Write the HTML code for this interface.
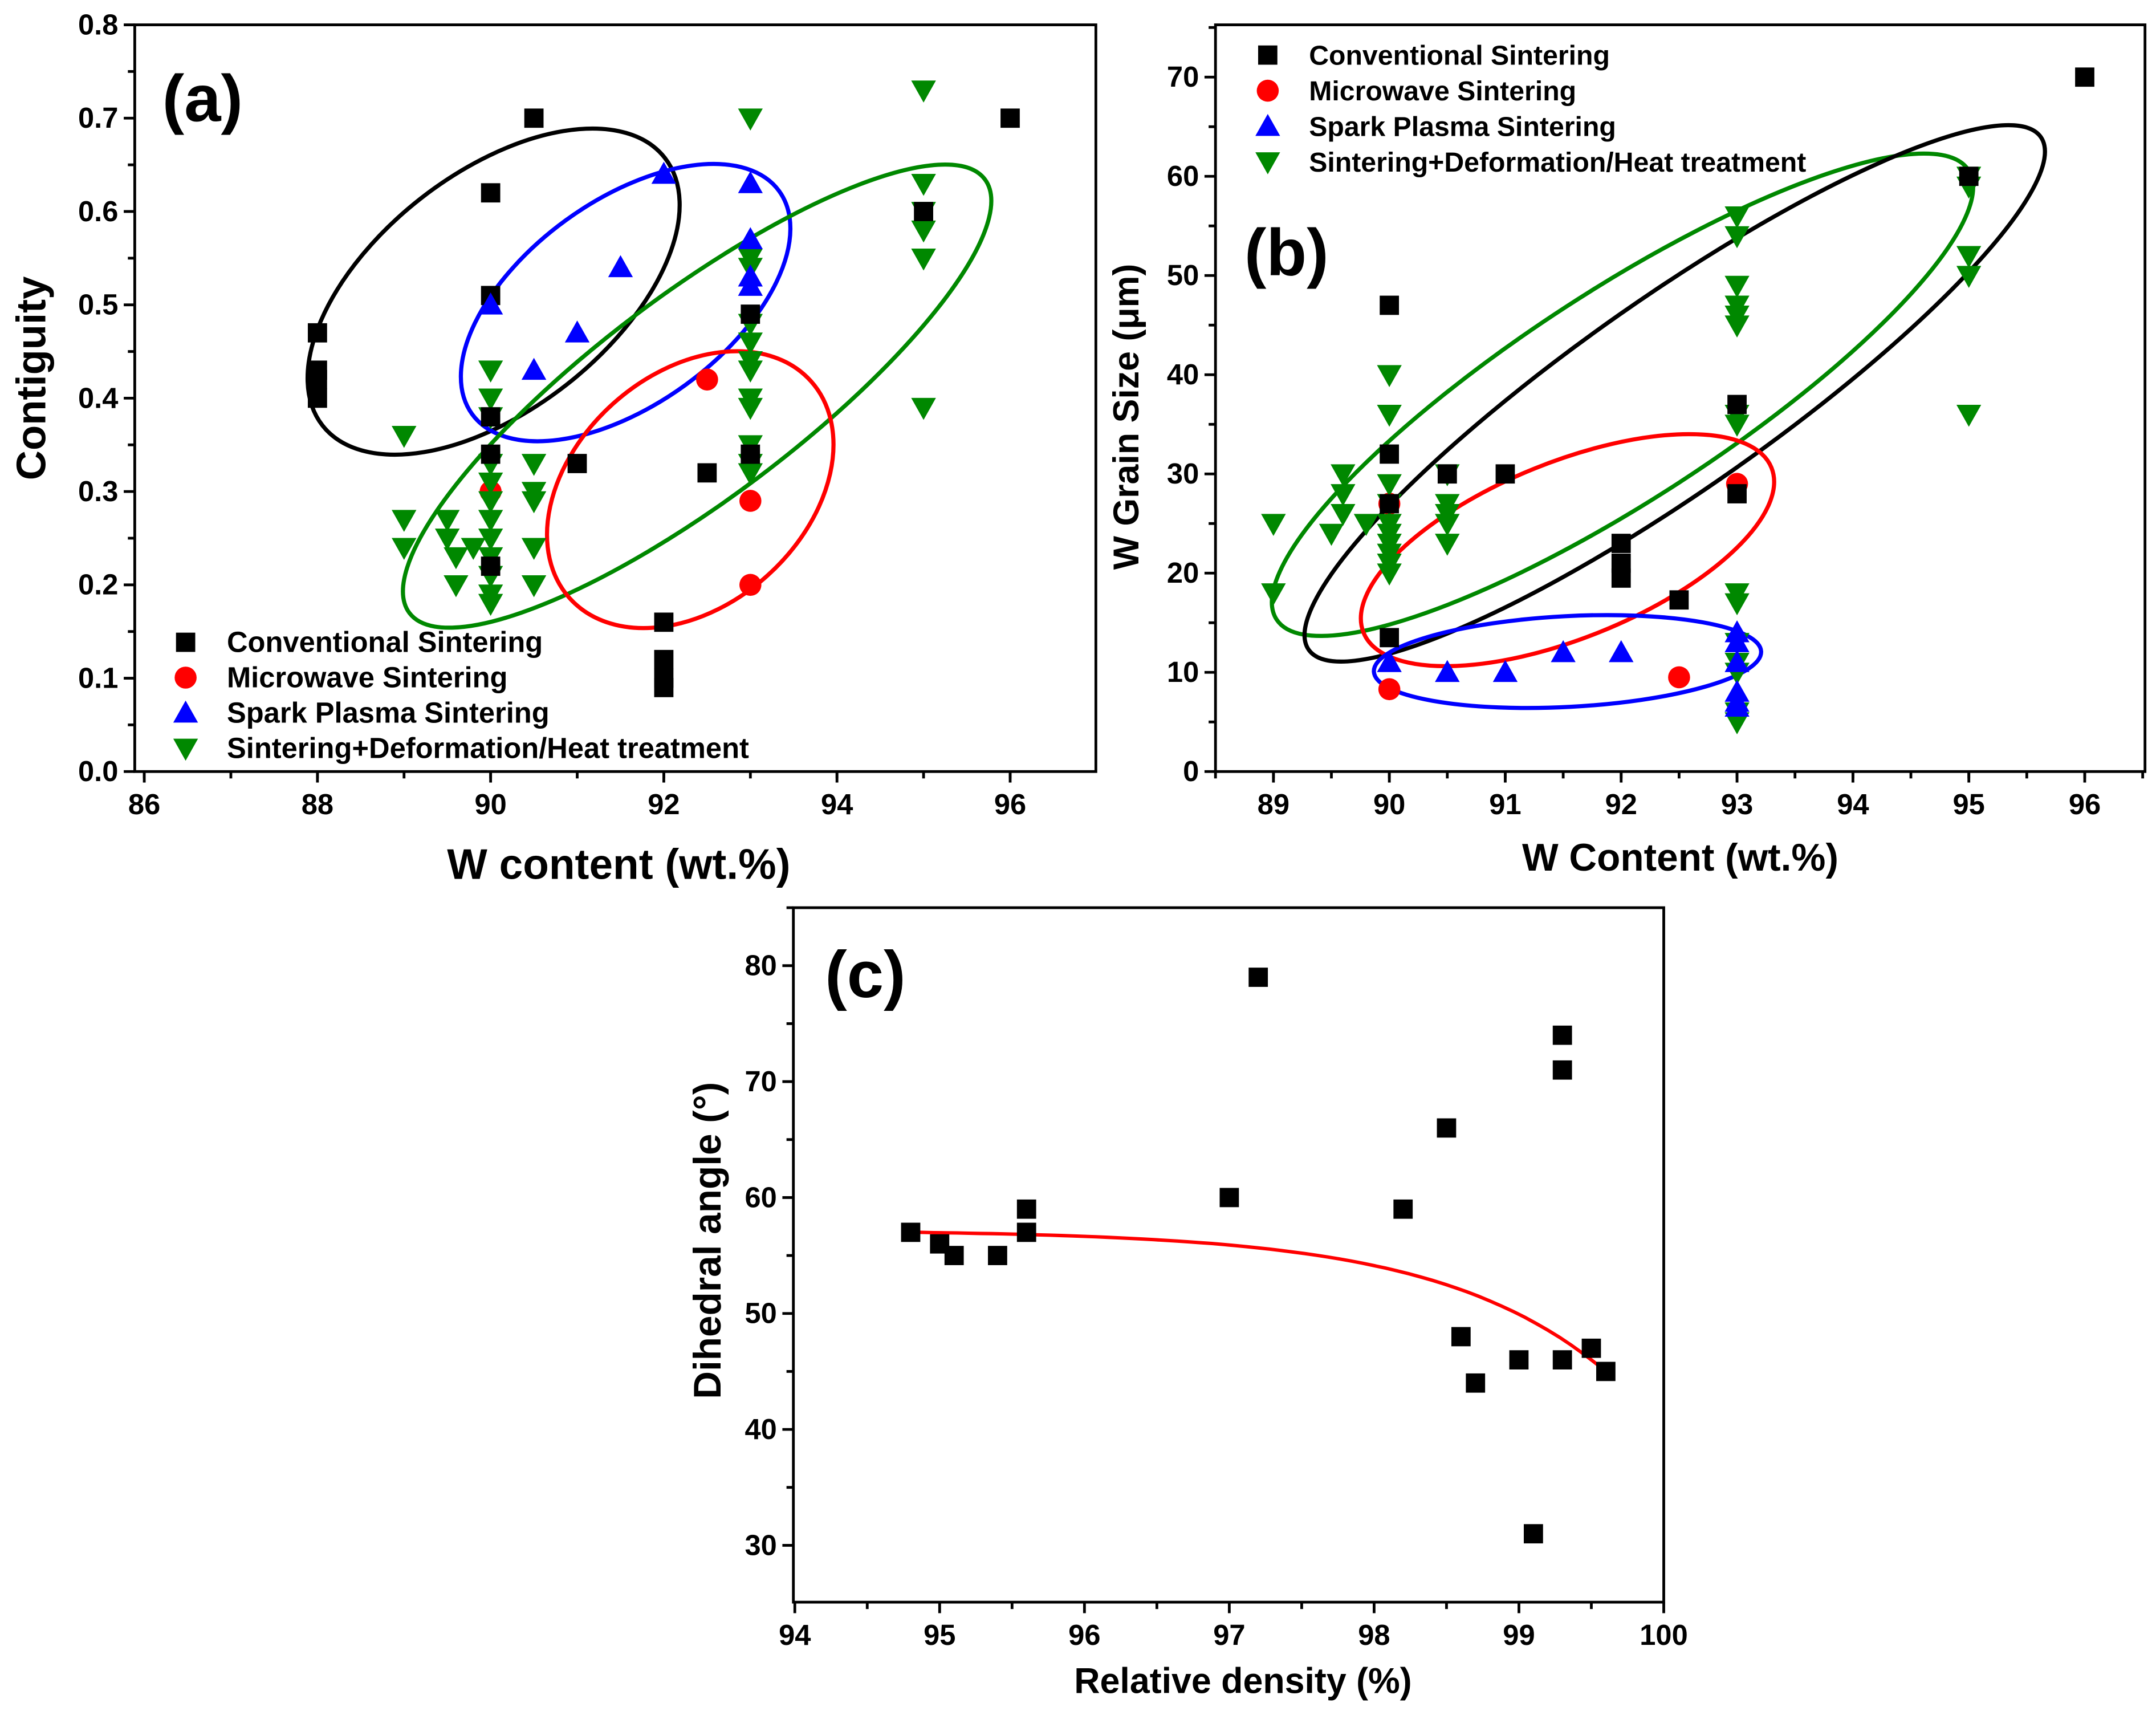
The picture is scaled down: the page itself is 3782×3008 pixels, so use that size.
<!DOCTYPE html>
<html><head><meta charset="utf-8"><style>
html,body{margin:0;padding:0;background:#fff}
svg{display:block}
text{font-family:"Liberation Sans",sans-serif;font-weight:bold;fill:#000}
</style></head><body>
<svg id="fig" width="3782" height="3008" viewBox="0 0 1568 1247" xmlns="http://www.w3.org/2000/svg"></svg>
<script>
// ---------- Panel (a) data ----------
const aConvX=[88,88,88,88,90,90,90,90,90,90.5,91,92,92,92,92,92.5,93,93,95,96];
const aConvY=[0.47,0.43,0.42,0.40,0.62,0.51,0.38,0.34,0.22,0.70,0.33,0.16,0.12,0.10,0.09,0.32,0.49,0.34,0.60,0.70];
const aMicX=[90,92.5,93,93];
const aMicY=[0.30,0.42,0.29,0.20];
const aSpsX=[90,90.5,91,91.5,92,93,93,93,93];
const aSpsY=[0.50,0.43,0.47,0.54,0.64,0.63,0.57,0.53,0.52];
const aSdhX=[89,89,89,89.5,89.5,89.6,89.6,89.8,90,90,90,90,90,90,90,90,90,90,90,90,90.5,90.5,90.5,90.5,90.5,93,93,93,93,93,93,93,93,93,93,93,93,95,95,95,95,95,95];
const aSdhY=[0.36,0.27,0.24,0.27,0.25,0.23,0.20,0.24,0.43,0.40,0.38,0.33,0.31,0.29,0.27,0.25,0.23,0.21,0.19,0.18,0.33,0.30,0.29,0.24,0.20,0.70,0.55,0.54,0.48,0.46,0.44,0.43,0.40,0.39,0.35,0.33,0.32,0.73,0.63,0.60,0.58,0.55,0.39];
const aXTicks=[86,88,90,92,94,96];
const aYTicks=[0,0.1,0.2,0.3,0.4,0.5,0.6,0.7,0.8];
// ---------- Panel (b) data ----------
const bConvX=[90,90,90,90,90.5,91,92,92,92,92.5,93,93,95,96];
const bConvY=[47,32,27,13.5,30,30,23,21,19.5,17.3,37,28,60,70];
const bMicX=[90,90,92.5,93];
const bMicY=[8.3,27,9.5,29];
const bSpsX=[90,90.5,91,91.5,92,93,93,93,93,93,93];
const bSpsY=[11,10,10,12,12,14,13,11,8,7,6.5];
const bSdhX=[89,89,89.5,89.6,89.6,89.6,89.8,90,90,90,90,90,90,90,90,90,90,90.5,90.5,90.5,90.5,90.5,93,93,93,93,93,93,93,93,93,93,93,93,93,93,93,95,95,95,95,95];
const bSdhY=[25,18,24,30,28,26,25,40,36,29,27,25,24,23,22,21,20,30,27,26,25,23,56,54,49,47,46,45,36,35,18,17,13,11,10,6,5,60,59,52,50,36];
const bXTicks=[89,90,91,92,93,94,95,96];
const bYTicks=[0,10,20,30,40,50,60,70];
// ---------- Panel (c) data ----------
const cX=[94.8,95,95.1,95.4,95.6,95.6,97,97.2,98.2,98.5,98.6,98.7,99,99.1,99.3,99.3,99.3,99.5,99.6];
const cY=[57,56,55,55,57,59,60,79,59,66,48,44,46,31,46,71,74,47,45];
const cXTicks=[94,95,96,97,98,99,100];
const cYTicks=[30,40,50,60,70,80];
const cFit=[57.2,12.2,99.6,1.16]; // y = a - b*exp((x-x0)/t)

const NS="http://www.w3.org/2000/svg";
const svg=document.getElementById('fig');
function el(tag,attrs,parent){const e=document.createElementNS(NS,tag);for(const k in attrs)e.setAttribute(k,attrs[k]);(parent||svg).appendChild(e);return e;}
function txt(s,attrs,parent){const e=el('text',attrs,parent);e.textContent=s;return e;}

function axes(g,P,xt,yt,xminor,yminor,xfmt,yfmt){
  const sx=v=>P.x0+(v-P.xa)/(P.xb-P.xa)*(P.x1-P.x0);
  const sy=v=>P.y1-(v-P.ya)/(P.yb-P.ya)*(P.y1-P.y0);
  for(const v of xt){const t=el('line',{x1:sx(v),x2:sx(v),y1:P.y1,y2:P.y1+8,stroke:'#000','stroke-width':2},g);
    
    const l=txt(xfmt(v),{x:sx(v),y:P.y1+31,'font-size':21,'text-anchor':'middle'},g);
    }
  for(const v of xminor){if(sx(v)<P.x0||sx(v)>P.x1)continue;el('line',{x1:sx(v),x2:sx(v),y1:P.y1,y2:P.y1+5,stroke:'#000','stroke-width':2},g);}
  for(const v of yt){const t=el('line',{x1:P.x0-8,x2:P.x0,y1:sy(v),y2:sy(v),stroke:'#000','stroke-width':2},g);
    
    const l=txt(yfmt(v),{x:P.x0-12,y:sy(v)+7,'font-size':21,'text-anchor':'end'},g);
    }
  for(const v of yminor){if(sy(v)<P.y0||sy(v)>P.y1)continue;el('line',{x1:P.x0-5,x2:P.x0,y1:sy(v),y2:sy(v),stroke:'#000','stroke-width':2},g);}
  const r=el('rect',{x:P.x0,y:P.y0,width:P.x1-P.x0,height:P.y1-P.y0,fill:'none',stroke:'#000','stroke-width':2},g);
  
  return [sx,sy];
}
function marker(g,type,x,y,name){
  let m;
  if(type==='sq') m=el('rect',{x:x-7,y:y-7,width:14,height:14,fill:'#000'},g);
  else if(type==='ci') m=el('circle',{cx:x,cy:y,r:8,fill:'#f00'},g);
  else if(type==='up') m=el('polygon',{points:`${x},${y-9} ${x-9},${y+7} ${x+9},${y+7}`,fill:'#00f'},g);
  else m=el('polygon',{points:`${x},${y+9} ${x-9},${y-7} ${x+9},${y-7}`,fill:'#080'},g);
  
  
}
function series(g,sx,sy,X,Y,type,name){X.forEach((v,i)=>marker(g,type,sx(v),sy(Y[i]),name));}
function ellipse(g,cx,cy,rx,ry,rot,col,name){
  const e=el('ellipse',{cx,cy,rx,ry,transform:`rotate(${rot} ${cx} ${cy})`,fill:'none',stroke:col,'stroke-width':3},g);
  
}
function legend(g,x,y0,dy,items,fs){
  items.forEach((it,i)=>{const y=y0+i*dy;
    const gi=el('g',{},g);
    marker(gi,it[0],x,y,'legend-marker');
    const t=txt(it[1],{x:x+30,y:y+7,'font-size':fs},gi);
    });
}
const legItems=[['sq','Conventional Sintering'],['ci','Microwave Sintering'],['up','Spark Plasma Sintering'],['dn','Sintering+Deformation/Heat treatment']];
const range=(a,b,s)=>{const r=[];for(let v=a;v<=b+1e-9;v+=s)r.push(+v.toFixed(3));return r;};

// ---- Panel a ----
{const g=el('g',{});
const P={x0:98,x1:797,y0:18,y1:561,xa:85.89,xb:96.99,ya:0,yb:0.8};
const [sx,sy]=axes(g,P,aXTicks,aYTicks,range(85,97,1),range(0.05,0.75,0.1),v=>String(v),v=>v.toFixed(1));
ellipse(g,359,212,158,86,-38,'#000','ellipse-conventional');
ellipse(g,455,220,138,74,-36,'#00f','ellipse-sps');
ellipse(g,507,288,262,74,-37,'#080','ellipse-sdh');
ellipse(g,502,356,118,84,-42,'#f00','ellipse-microwave');
series(g,sx,sy,aMicX,aMicY,'ci','point-microwave');
series(g,sx,sy,aSdhX,aSdhY,'dn','point-sdh');
series(g,sx,sy,aConvX,aConvY,'sq','point-conventional');
series(g,sx,sy,aSpsX,aSpsY,'up','point-sps');
legend(g,135,467,25.7,legItems,21);
let t=txt('(a)',{x:118,y:88,'font-size':48},g);
t=txt('Contiguity',{x:0,y:0,'font-size':30,'text-anchor':'middle',transform:'translate(33,275) rotate(-90)'},g);
t=txt('W content (wt.%)',{x:450,y:639,'font-size':31,'text-anchor':'middle'},g);
}
// ---- Panel b ----
{const g=el('g',{});
const P={x0:884,x1:1560,y0:18,y1:561,xa:88.5,xb:96.52,ya:0,yb:75.27};
const [sx,sy]=axes(g,P,bXTicks,bYTicks,range(88.5,96.5,0.5),range(5,75,10),v=>String(v),v=>String(v));
ellipse(g,1180,287,300,76,-33,'#080','ellipse-sdh');
ellipse(g,1218,286,325,70,-35,'#000','ellipse-conventional');
ellipse(g,1140,400,160,64,-22,'#f00','ellipse-microwave');
ellipse(g,1140,481,141,33,-3,'#00f','ellipse-sps');
series(g,sx,sy,bMicX,bMicY,'ci','point-microwave');
series(g,sx,sy,bSdhX,bSdhY,'dn','point-sdh');
series(g,sx,sy,bConvX,bConvY,'sq','point-conventional');
series(g,sx,sy,bSpsX,bSpsY,'up','point-sps');
legend(g,922,40,25.9,legItems,20);
let t=txt('(b)',{x:905,y:200,'font-size':48},g);
t=txt('W Grain Size (\u03bcm)',{x:0,y:0,'font-size':26,'text-anchor':'middle',transform:'translate(828,303) rotate(-90)'},g);
t=txt('W Content (wt.%)',{x:1222,y:633,'font-size':28,'text-anchor':'middle'},g);
}
// ---- Panel c ----
{const g=el('g',{});
const P={x0:577,x1:1210,y0:660,y1:1165,xa:93.99,xb:100,ya:25.1,yb:85};
const [sx,sy]=axes(g,P,cXTicks,cYTicks,range(94.5,99.5,1),range(25,85,10),v=>String(v),v=>String(v));
let d='';const [a,b,x0,tt]=cFit;
for(let i=0;i<=60;i++){const x=94.8+(99.6-94.8)*i/60;const y=a-b*Math.exp((x-x0)/tt);d+=(i?'L':'M')+sx(x).toFixed(1)+' '+sy(y).toFixed(1);}
const f=el('path',{d,fill:'none',stroke:'#f00','stroke-width':2.5},g);
series(g,sx,sy,cX,cY,'sq','point-dihedral');
let t=txt('(c)',{x:600,y:725,'font-size':48},g);
t=txt('Dihedral angle (\u00b0)',{x:0,y:0,'font-size':28,'text-anchor':'middle',transform:'translate(524,902) rotate(-90)'},g);
t=txt('Relative density (%)',{x:904,y:1231,'font-size':26,'text-anchor':'middle'},g);
}
</script>
</body></html>
